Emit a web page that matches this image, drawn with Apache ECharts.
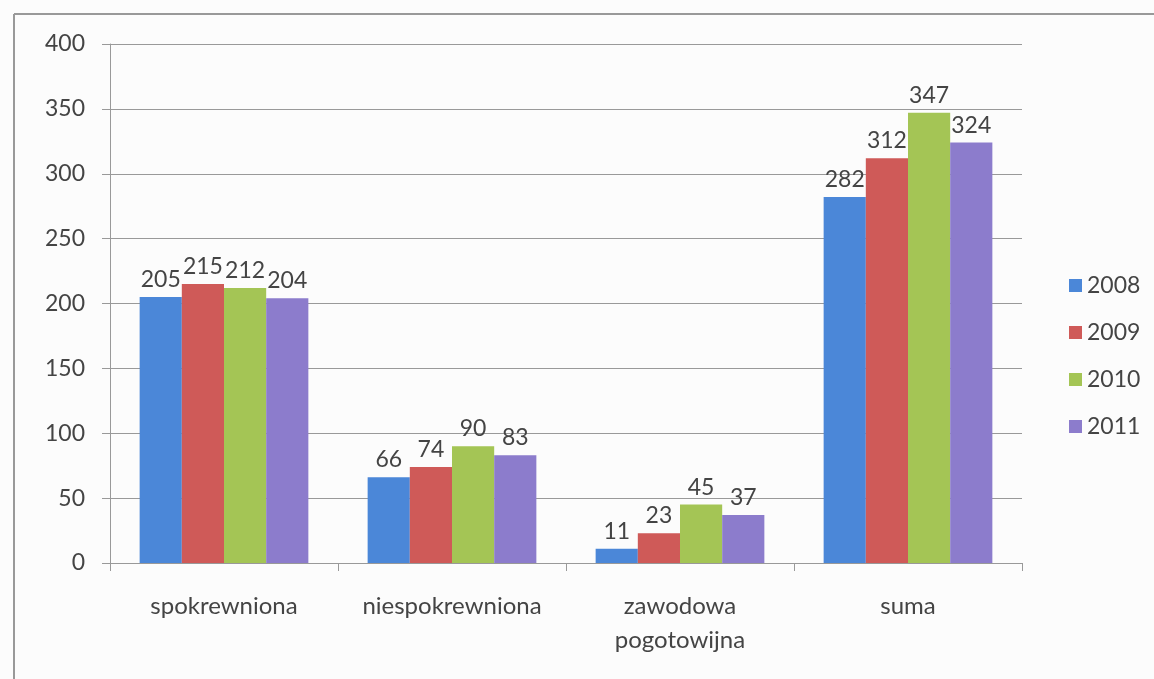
<!DOCTYPE html>
<html><head><meta charset="utf-8">
<script src="https://cdn.jsdelivr.net/npm/echarts@6/dist/echarts.min.js"></script>
<style>html,body{margin:0;padding:0;background:#fcfcfc}#c{width:1154px;height:679px}</style>
</head><body><div id="c"></div>
<script>
const categories = ['spokrewniona', 'niespokrewniona', 'zawodowa\npogotowijna', 'suma'];
const years = ['2008', '2009', '2010', '2011'];
const s2008 = [205, 66, 11, 282];
const s2009 = [215, 74, 23, 312];
const s2010 = [212, 90, 45, 347];
const s2011 = [204, 83, 37, 324];
const yTicks = [0, 50, 100, 150, 200, 250, 300, 350, 400];
const colors = ['#4b87d8', '#cf5a58', '#a4c555', '#8c7ccc'];
const seriesData = [s2008, s2009, s2010, s2011];
const font = 'Lato, "Open Sans", sans-serif';

const chart = echarts.init(document.getElementById('c'));
chart.setOption({
  backgroundColor: '#fcfcfc',
  animation: false,
  color: colors,
  graphic: [
    {type: 'line', shape: {x1: 14, y1: 14, x2: 1154, y2: 14}, style: {stroke: '#999', lineWidth: 2}},
    {type: 'line', shape: {x1: 14, y1: 14, x2: 14, y2: 679}, style: {stroke: '#999', lineWidth: 2}}
  ],
  legend: {
    orient: 'vertical', left: 1064, top: 269, itemGap: 24, itemWidth: 13, itemHeight: 13,
    icon: 'rect',
    textStyle: {fontFamily: font, fontSize: 23, color: '#444'},
    data: years
  },
  grid: {left: 110, right: 132, top: 44, bottom: 116, containLabel: false},
  xAxis: {
    type: 'category', data: categories,
    axisLine: {lineStyle: {color: '#999'}},
    axisTick: {show: true, interval: 0, length: 8, lineStyle: {color: '#999'}},
    axisLabel: {interval: 0, hideOverlap: false, fontFamily: font, fontSize: 24, color: '#444', margin: 26, lineHeight: 34}
  },
  yAxis: {
    type: 'value', min: 0, max: 400, interval: 50,
    axisLine: {show: true, lineStyle: {color: '#999'}},
    axisTick: {show: true, length: 8, lineStyle: {color: '#999'}},
    splitLine: {lineStyle: {color: '#999'}},
    axisLabel: {fontFamily: font, fontSize: 23, color: '#444', margin: 25,
      formatter: v => yTicks.includes(v) ? String(v) : ''}
  },
  series: years.map((y, i) => ({
    name: y, type: 'bar', data: seriesData[i],
    barGap: '0%', barCategoryGap: '26%',
    label: {show: true, position: 'top', distance: 6, fontFamily: font, fontSize: 23, color: '#444'}
  }))
});
</script></body></html>
